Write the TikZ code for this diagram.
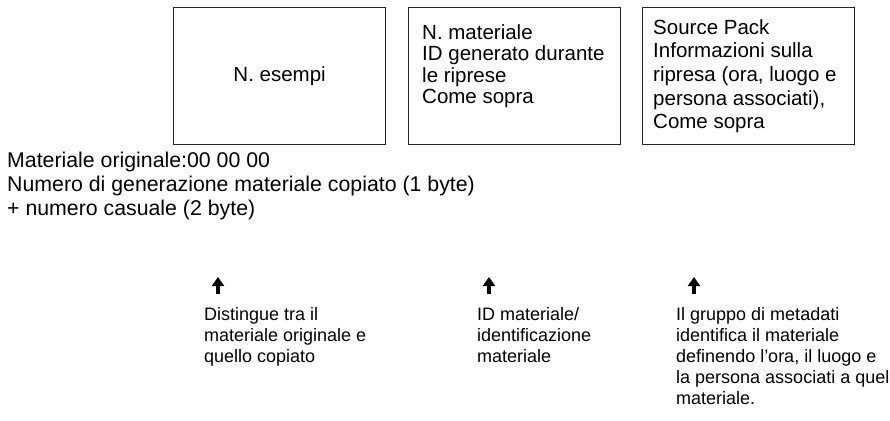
\documentclass[tikz,border=0pt]{standalone}
\usepackage{fontspec}
\setmainfont{Liberation Sans}
\usetikzlibrary{arrows.meta}

\begin{document}
\begin{tikzpicture}[x=1pt,y=-1pt,
  txt/.style={anchor=base west,inner sep=0pt,align=left,font=\fontsize{18}{21}\selectfont},
  fld/.style={draw=black!85,line width=1.2pt,minimum width=212pt,minimum height=137pt,anchor=north west,inner sep=0pt,font=\fontsize{20.5}{23.5}\selectfont},
  uparr/.style={line width=3.6pt,-{Triangle[width=12pt,length=9pt]}}]
\useasboundingbox (0,0) rectangle (890,420);
% the three fields (text nodes are placed at the baseline of their last line)
\node[fld] (esempi) at (173,7) {N. esempi};
\node[fld] (matbox) at (408,7) {};
\node[fld] (srcbox) at (642,7) {};
\node[txt,font=\fontsize{20.5}{21.5}\selectfont] (mattxt) at (422,103.5)
   {N. materiale\\ID generato durante\\le riprese\\Come sopra};
\node[txt,font=\fontsize{20.5}{23.7}\selectfont] (srctxt) at (653,128.8)
   {Source Pack\\Informazioni sulla\\ripresa (ora, luogo e\\persona associati),\\Come sopra};
% notes
\node[txt,font=\fontsize{21.3}{24}\selectfont] (orig) at (7,215)
   {Materiale originale:00 00 00\\Numero di generazione materiale copiato (1 byte)\\+ numero casuale (2 byte)};
\node[txt] (dist) at (204,362) {Distingue tra il\\materiale originale e\\quello copiato};
\node[txt] (ident) at (477,362) {ID materiale/\\identificazione\\materiale};
\node[txt] (meta) at (676,404) {Il gruppo di metadati\\identifica il materiale\\definendo l’ora, il luogo e\\la persona associati a quel\\materiale.};
% arrows
\foreach \n/\x in {dist/218,ident/489,meta/694} {
   \coordinate (\n-tip) at (\x,277);
   \draw[uparr] (\x,294) -- (\n-tip);
}
\end{tikzpicture}
\end{document}
